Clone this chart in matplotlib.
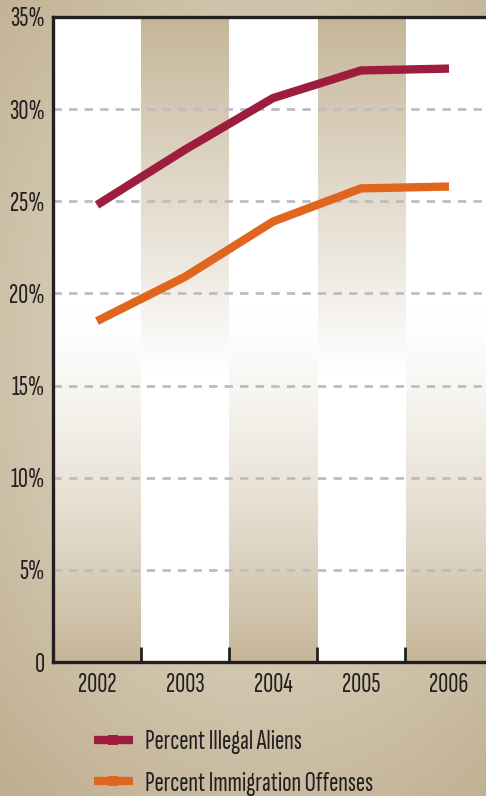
import numpy as np
import matplotlib as mpl
mpl.use('Agg')
import matplotlib.pyplot as plt
from matplotlib.lines import Line2D
from matplotlib.colors import to_rgb

years = ['2002', '2003', '2004', '2005', '2006']
illegal_aliens = [24.8, 27.8, 30.6, 32.1, 32.2]
immigration_offenses = [18.5, 20.9, 23.9, 25.7, 25.8]
y_ticks = [0, 5, 10, 15, 20, 25, 30, 35]
y_labels = ['0', '5%', '10%', '15%', '20%', '25%', '30%', '35%']

red = '#9e1d3e'
orange = '#e0651f'
dark = '#231f20'
tan = np.array(to_rgb('#c6b699'))
white = np.array([1.0, 1.0, 1.0])

plt.rcParams['font.family'] = ['Sofia Sans Extra Condensed', 'DejaVu Sans']
plt.rcParams['font.weight'] = 600

fig = plt.figure(figsize=(4.86, 7.96), dpi=100)

# beige background with a soft light spot
bg = fig.add_axes([0, 0, 1, 1], zorder=-10)
yy, xx = np.mgrid[0:1:200j, 0:1:120j]
d = np.sqrt(((xx - 0.55) / 0.9) ** 2 + ((yy - 0.55) / 0.75) ** 2)
t = np.clip(d, 0, 1)[..., None]
light = np.array(to_rgb('#ece5d8'))
edge = np.array(to_rgb('#bcab8b'))
bg.imshow(light * (1 - t) + edge * t, extent=(0, 1, 0, 1), aspect='auto',
          interpolation='bilinear', origin='lower')
bg.axis('off')

ax = fig.add_axes([53 / 486, 134 / 796, 1 - 53 / 486, 645 / 796])

# alternating column bands with vertical fades
ny = 200
h = np.linspace(0, 1, ny)  # 0 bottom -> 1 top
cols = []
for i in range(5):
    if i % 2 == 0:
        a = np.clip((0.55 - h) / 0.55, 0, 1) ** 1.4
    else:
        a = np.clip((h - 0.45) / 0.55, 0, 1) ** 1.0
    c = white * (1 - a[:, None]) + tan * a[:, None]
    cols.append(np.repeat(c[:, None, :], 20, axis=1))
img = np.concatenate(cols, axis=1)
ax.imshow(img, extent=(-0.5, 4.5, 0, 35), aspect='auto', origin='lower',
          interpolation='nearest', zorder=0)
ax.set_xlim(-0.5, -0.5 + 433 / 88)
ax.set_ylim(0, 35)

for yv in y_ticks[1:-1]:
    ax.axhline(yv, color='#bdbdc1', lw=2, dashes=(3, 2.6), zorder=1)

x = np.arange(len(years))
ax.plot(x, illegal_aliens, color=red, lw=6, solid_capstyle='butt',
        solid_joinstyle='miter', zorder=3)
ax.plot(x, immigration_offenses, color=orange, lw=6, solid_capstyle='butt',
        solid_joinstyle='miter', zorder=3)

ax.spines['right'].set_visible(False)
for s in ['left', 'bottom', 'top']:
    ax.spines[s].set_color(dark)
    ax.spines[s].set_linewidth(2.4)

ax.set_yticks(y_ticks)
ax.set_yticklabels(y_labels)
ax.tick_params(axis='y', length=0, pad=6, labelsize=20, labelcolor=dark)

ax.set_xticks(np.arange(0.5, 4.5, 1.0))
ax.set_xticklabels([])
ax.set_xticks(x, minor=True)
ax.set_xticklabels(years, minor=True)
ax.tick_params(axis='x', which='major', direction='in', length=11, width=2,
               color=dark)
ax.tick_params(axis='x', which='minor', length=0, pad=8, labelsize=20,
               labelcolor=dark)

handles = [Line2D([], [], color=red, lw=6, marker='s', markersize=7,
                  markeredgewidth=0, solid_capstyle='butt'),
           Line2D([], [], color=orange, lw=6, marker='s', markersize=7,
                  markeredgewidth=0, solid_capstyle='butt')]
fig.legend(handles, ['Percent Illegal Aliens', 'Percent Immigration Offenses'],
           loc='upper left', bbox_to_anchor=(94 / 486, 1 - 730 / 796),
           frameon=False, fontsize=20, handlelength=1.4, handletextpad=0.45,
           labelspacing=0.6, borderpad=0, borderaxespad=0,
           labelcolor=dark)

fig.savefig('out.png', dpi=100)
